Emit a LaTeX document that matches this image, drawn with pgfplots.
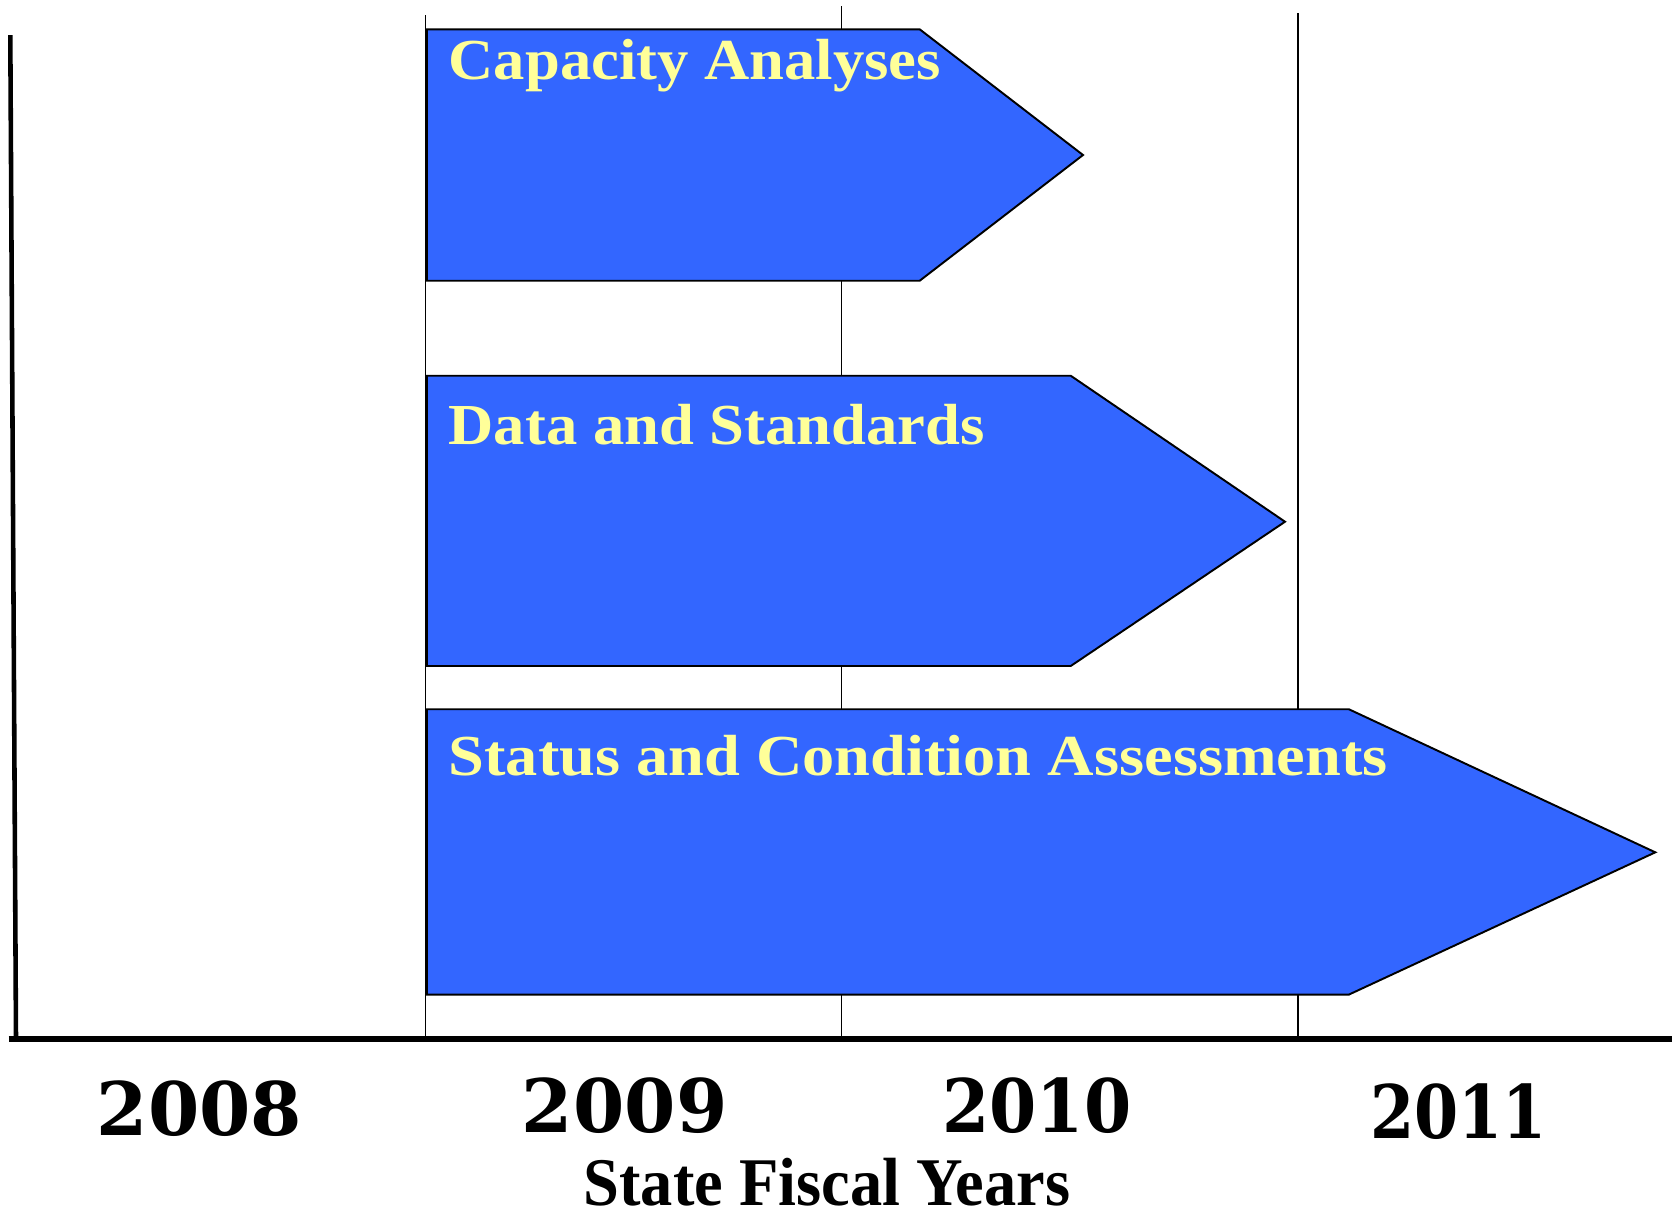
\documentclass[border=0pt]{standalone}
\usepackage{graphicx}
\usepackage{pgfplots}
\pgfplotsset{compat=1.18}
\usepackage{fontspec}
\setmainfont{Liberation Serif}
\newfontfamily\labfont[FakeStretch=1.08]{Liberation Serif}
\newfontfamily\labfontw[FakeStretch=1.11]{Liberation Serif}
\newfontfamily\titlefont[FakeStretch=0.945]{Liberation Serif}
\newfontfamily\yearfont{DejaVu Serif}
\definecolor{arrowblue}{HTML}{3366FF}
\definecolor{labyellow}{HTML}{FFFF99}
\begin{document}
\begin{tikzpicture}
\begin{axis}[
  width=16.72cm, height=12.11cm, scale only axis,
  xmin=0, xmax=1672, ymin=0, ymax=1211, y dir=reverse,
  hide axis, clip=false,
]
% year boundary lines
\addplot[black, line width=0.55pt] coordinates {(425.5,15) (425.5,1038)};
\addplot[black, line width=0.55pt] coordinates {(841.5,6) (841.5,1038)};
\addplot[black, line width=0.55pt] coordinates {(1298,13) (1298,1038)};
% axes lines
\addplot[black, line width=1.3pt] coordinates {(10.3,35) (16,1038)};
\addplot[black, line width=1.7pt] coordinates {(8.5,1038.5) (1672,1038.5)};
% phase arrows
\addplot[fill=arrowblue, draw=black, line width=0.55pt] coordinates {(427,29.3) (919.7,29.3) (1083,155) (919.7,280.7) (427,280.7)} --cycle;
\addplot[fill=arrowblue, draw=black, line width=0.55pt] coordinates {(427,375.7) (1070.7,375.7) (1285,521.7) (1070.7,666) (427,666)} --cycle;
\addplot[fill=arrowblue, draw=black, line width=0.55pt] coordinates {(427,709.2) (1348.8,709.2) (1655.3,852.3) (1348.8,994.6) (427,994.6)} --cycle;
% labels
\node[anchor=base west, inner sep=0, text=labyellow, font=\labfont\bfseries\fontsize{16.5}{18}\selectfont] at (axis cs:448,79) {Capacity Analyses};
\node[anchor=base west, inner sep=0, text=labyellow, font=\labfont\bfseries\fontsize{16.5}{18}\selectfont] at (axis cs:448,444) {Data and Standards};
\node[anchor=base west, inner sep=0, text=labyellow, font=\labfontw\bfseries\fontsize{16.5}{18}\selectfont] at (axis cs:448,775) {Status and Condition Assessments};
% years
\node[anchor=base, inner sep=0, font=\yearfont\bfseries\fontsize{21}{24}\selectfont] at (axis cs:199.4,1135) {2008};
\node[anchor=base, inner sep=0, font=\yearfont\bfseries\fontsize{21}{24}\selectfont] at (axis cs:624.6,1132.5) {2009};
\node[anchor=base, inner sep=0, font=\yearfont\bfseries\fontsize{21}{24}\selectfont] at (axis cs:1036.9,1132) {\scalebox{0.92}[1]{2010}};
\node[anchor=base, inner sep=0, font=\yearfont\bfseries\fontsize{21}{24}\selectfont] at (axis cs:1458.4,1138.5) {\scalebox{0.86}[1]{2011}};
\node[anchor=base, inner sep=0, font=\titlefont\bfseries\fontsize{19.4}{22}\selectfont] at (axis cs:827,1205) {State Fiscal Years};
\end{axis}
\pgfresetboundingbox
\path[use as bounding box] (current axis.south west) rectangle (current axis.north east);
\end{tikzpicture}
\end{document}
